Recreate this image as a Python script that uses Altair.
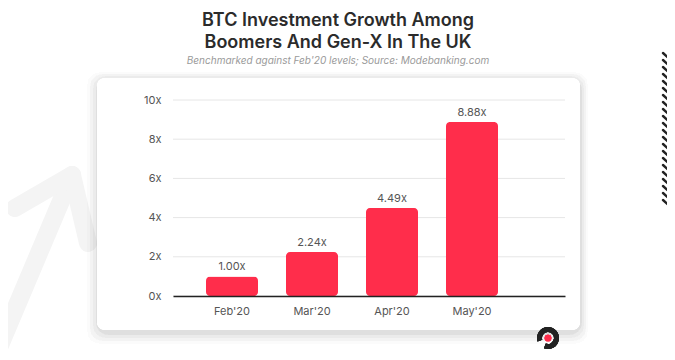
import altair as alt
import pandas as pd

months = ["Feb'20", "Mar'20", "Apr'20", "May'20"]
growth = [1.00, 2.24, 4.49, 8.88]
labels = ["1.00x", "2.24x", "4.49x", "8.88x"]
y_ticks = [0, 2, 4, 6, 8, 10]

df = pd.DataFrame({"month": months, "growth": growth, "label": labels})
grid_df = pd.DataFrame({"growth": y_ticks})

FONT = "Inter"
RED = "#FF2D4B"

x_scale = alt.Scale(paddingInner=0.35, paddingOuter=0.625, align=0.33)
y_scale = alt.Scale(domain=[0, 10])

x_axis = alt.Axis(labelAngle=0, labelColor="#555", labelFontSize=11, labelFont=FONT,
                  labelPadding=9, ticks=False, domainColor="#222", domainWidth=1.5, zindex=1)
y_axis = alt.Axis(values=y_ticks, labelExpr="datum.value + 'x'", labelColor="#555",
                  labelFontSize=11, labelFont=FONT, labelPadding=12, ticks=False,
                  domain=False, grid=False, zindex=1, labelOverlap=False)

x_enc = alt.X("month:N", sort=months, title=None, scale=x_scale, axis=x_axis)
y_enc = alt.Y("growth:Q", title=None, scale=y_scale, axis=y_axis)

base = alt.Chart(df)

# faint background arrow
arrow_df = pd.DataFrame({
    "xa": [-175, -101, -101], "ya": [250, 75, 75],
    "xb": [-101, -158, -85], "yb": [75, 108, 143]})
arrow = alt.Chart(arrow_df).mark_rule(color="#f4f4f4", strokeWidth=18, strokeCap="round").encode(
    x=alt.X("xa:Q", scale=None), x2="xb:Q",
    y=alt.Y("ya:Q", scale=None), y2="yb:Q")

# card background with soft shadow
shadow = []
for i, op in enumerate([0.005, 0.007, 0.009, 0.011]):
    shadow.append(base.mark_rect(fill="#000", opacity=op, cornerRadius=12).encode(
        x=alt.value(-76 - 10 + i * 3), x2=alt.value(407 + 8 - i * 2),
        y=alt.value(-22 - 6 + i * 2), y2=alt.value(230 + 14 - i * 3)))
card = base.mark_rect(fill="white", cornerRadius=8).encode(
    x=alt.value(-76), x2=alt.value(407), y=alt.value(-22), y2=alt.value(230))

grid = alt.Chart(grid_df).mark_rule(color="#e6e6e6", strokeWidth=1).encode(
    y=y_enc, x=alt.value(0), x2=alt.value(392))

bars = base.mark_bar(color=RED, cornerRadius=4).encode(x=x_enc, y=y_enc)
text = base.mark_text(dy=-9, color="#555", fontSize=11, font=FONT).encode(
    x=x_enc, y=y_enc, text="label:N")

# hatch decoration on the right
hatch_df = pd.DataFrame({"i": list(range(22))})
hatch = alt.Chart(hatch_df).transform_calculate(
    x1="490", x2="500", y1="-47 + datum.i * 7.0", y2="-47 + datum.i * 7.0 + 9"
).mark_rule(color="#222", strokeWidth=2.4, strokeCap="round").encode(
    x=alt.X("x1:Q", scale=None), x2="x2:Q",
    y=alt.Y("y1:Q", scale=None), y2="y2:Q")

# logo
logo_ring = base.mark_arc(color="#222", radius=11, radius2=6, theta=4.4, theta2=9.8).encode(
    x=alt.value(375), y=alt.value(238))
logo_dot = base.mark_point(filled=True, color=RED, size=45, opacity=1, shape="circle").encode(
    x=alt.value(375), y=alt.value(238))

chart = alt.layer(arrow, *shadow, card, grid, bars, text, hatch, logo_ring, logo_dot).properties(
    width=392, height=196,
    padding={"left": 165, "top": 92, "right": 102, "bottom": 56},
    autosize=alt.AutoSizeParams(type="none"),
    title=alt.TitleParams(
        text=["BTC Investment Growth Among", "Boomers And Gen-X In The UK"],
        subtitle="Benchmarked against Feb'20 levels; Source: Modebanking.com",
        anchor="middle", frame="group", dx=-31, offset=-14,
        font=FONT, fontSize=18, fontWeight=600, color="#2b2b2b", lineHeight=22,
        subtitleFont=FONT, subtitleFontSize=10, subtitleFontStyle="italic",
        subtitleColor="#9a9a9a", subtitlePadding=4)
).configure_view(stroke=None).configure(background="white")

chart.save("out.html", embed_options={"renderer": "svg", "actions": False})
